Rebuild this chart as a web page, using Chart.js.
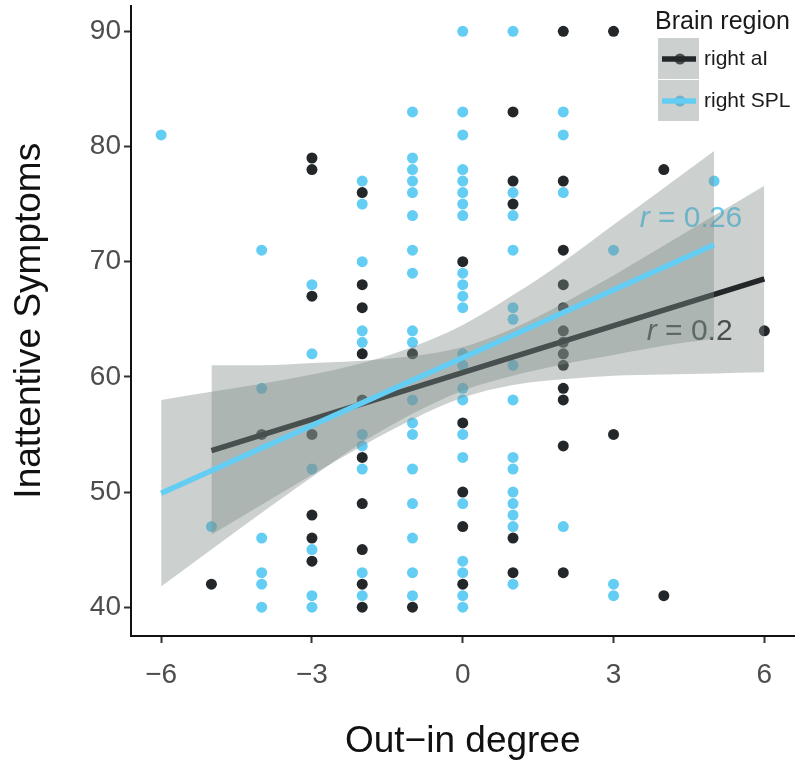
<!DOCTYPE html>
<html>
<head>
<meta charset="utf-8">
<script src="https://cdn.jsdelivr.net/npm/chart.js@4"></script>
<style>
  html, body { margin: 0; padding: 0; background: #fff; }
  #wrap { width: 800px; height: 764px; position: relative; }
</style>
</head>
<body>
<div id="wrap"><canvas id="chart"></canvas></div>
<script>
// ─── Data ───────────────────────────────────────────
const degrees = [-6, -5, -4, -3, -2, -1, 0, 1, 2, 3, 4, 5, 6];
const xTicks = [-6, -3, 0, 3, 6];
const yTicks = [40, 50, 60, 70, 80, 90];

// inattentive scores per out-in degree column
const aiByDegree = [
  [],
  [42],
  [55],
  [79, 78, 67, 55, 48, 46, 44],
  [76, 68, 66, 62, 58, 53, 49, 45, 42, 40],
  [62, 40],
  [70, 56, 50, 47, 42],
  [83, 77, 75, 46, 43],
  [90, 77, 71, 68, 66, 64, 63, 62, 61, 59, 58, 54, 43],
  [90, 55],
  [78, 41],
  [],
  [64]
];
const splByDegree = [
  [81],
  [47],
  [71, 59, 46, 43, 42, 40],
  [68, 62, 52, 45, 41, 40],
  [77, 75, 70, 64, 63, 55, 54, 52, 43, 41],
  [83, 79, 78, 77, 76, 74, 71, 69, 64, 63, 58, 56, 55, 52, 49, 46, 43, 41],
  [90, 83, 81, 78, 77, 76, 75, 74, 69, 68, 67, 66, 62, 61, 59, 58, 55, 53, 49, 44, 43, 41, 40],
  [90, 76, 74, 71, 66, 65, 61, 58, 53, 52, 50, 49, 48, 47, 42],
  [83, 81, 76, 47],
  [71, 42, 41],
  [],
  [77],
  []
];

// regression lines
const aiFitX = [-5, 6];
const aiFitY = [53.6, 68.5];
const splFitX = [-6, 5];
const splFitY = [49.9, 71.46];

// confidence bands
const aiBandX = [-5, -4, -3, -2, -1, 0, 1, 2, 3, 4, 5, 6];
const aiBandLo = [46.3, 48.9, 51.5, 54.0, 56.3, 58.2, 59.3, 59.8, 60.1, 60.2, 60.3, 60.4];
const aiBandHi = [61.0, 61.0, 61.2, 61.4, 61.8, 62.6, 64.2, 66.4, 68.8, 71.4, 74.0, 76.6];
const splBandX = [-6, -5, -4, -3, -2, -1, 0, 1, 2, 3, 4, 5];
const splBandLo = [41.8, 45.0, 48.2, 51.3, 54.3, 56.8, 58.8, 60.1, 61.1, 61.9, 62.7, 63.3];
const splBandHi = [58.0, 58.7, 59.4, 60.2, 61.2, 62.6, 64.5, 67.1, 70.0, 73.2, 76.4, 79.6];

const seriesNames = ['right aI', 'right SPL'];
const rLabels = ['0.2', '0.26'];

// ─── Styles ─────────────────────────────────────────
const DARK = '#23272a';
const BLUE = '#63cdf3';
const BAND = 'rgba(128, 141, 135, 0.4)';
const FONT = '"Liberation Sans", Arial, sans-serif';

function toPoints(byDegree) {
  const pts = [];
  byDegree.forEach((vals, i) => vals.forEach(v => pts.push({ x: degrees[i], y: v })));
  return pts;
}
function zip(xs, ys) {
  return xs.map((x, i) => ({ x: x, y: ys[i] }));
}
function bandDatasets(xs, lo, hi, order) {
  const base = {
    showLine: true, pointRadius: 0, borderWidth: 0, borderColor: 'transparent',
    cubicInterpolationMode: 'monotone', order: order
  };
  return [
    Object.assign({}, base, { data: zip(xs, lo), fill: false }),
    Object.assign({}, base, { data: zip(xs, hi), fill: '-1', backgroundColor: BAND })
  ];
}
function lineDataset(xs, ys, color, order) {
  return {
    data: zip(xs, ys), showLine: true, pointRadius: 0,
    borderColor: color, borderWidth: 5.5, fill: false, order: order
  };
}
// drop the label overhang padding Chart.js reserves around each axis
function zeroPadding(s) {
  s.paddingTop = 0; s.paddingBottom = 0; s.paddingLeft = 0; s.paddingRight = 0;
}

// ─── Plugins ────────────────────────────────────────
const rLabelPlugin = {
  id: 'rLabels',
  beforeDatasetsDraw(chart) {
    const { ctx, scales: { x, y } } = chart;
    const items = [
      { x: 3.66, y: 63.9, text: rLabels[0], color: DARK },
      { x: 3.52, y: 73.7, text: rLabels[1], color: BLUE }
    ];
    ctx.save();
    ctx.textBaseline = 'middle';
    ctx.textAlign = 'left';
    items.forEach(it => {
      const px = x.getPixelForValue(it.x);
      const py = y.getPixelForValue(it.y);
      ctx.fillStyle = it.color;
      ctx.font = 'italic 30px ' + FONT;
      ctx.fillText('r', px, py);
      const w = ctx.measureText('r').width;
      ctx.font = '30px ' + FONT;
      ctx.fillText(' = ' + it.text, px + w, py);
    });
    ctx.restore();
  }
};

const legendPlugin = {
  id: 'ggLegend',
  afterDraw(chart) {
    const ctx = chart.ctx;
    ctx.save();
    ctx.fillStyle = '#1a1a1a';
    ctx.font = '25px ' + FONT;
    ctx.textBaseline = 'alphabetic';
    ctx.fillText('Brain region', 655, 29);
    const colors = [DARK, BLUE];
    seriesNames.forEach((name, i) => {
      const top = 38 + i * 42;
      const cy = top + 21;
      // point, then ribbon, then line like ggplot keys
      ctx.fillStyle = colors[i];
      ctx.beginPath();
      ctx.arc(680, cy, 5.5, 0, Math.PI * 2);
      ctx.fill();
      ctx.fillStyle = BAND;
      ctx.fillRect(658, top, 41, 41);
      ctx.strokeStyle = colors[i];
      ctx.lineWidth = 5.5;
      ctx.beginPath();
      ctx.moveTo(662, cy);
      ctx.lineTo(696, cy);
      ctx.stroke();
      ctx.fillStyle = '#1a1a1a';
      ctx.font = '21px ' + FONT;
      ctx.textBaseline = 'middle';
      ctx.fillText(name, 704, cy);
    });
    ctx.restore();
  }
};

// ─── Chart ──────────────────────────────────────────
const ctx = document.getElementById('chart').getContext('2d');
new Chart(ctx, {
  type: 'scatter',
  data: {
    datasets: [
      { data: toPoints(aiByDegree), backgroundColor: DARK, borderWidth: 0, pointRadius: 5.5, order: 11 },
      { data: toPoints(splByDegree), backgroundColor: BLUE, borderWidth: 0, pointRadius: 5.5, order: 10 },
      ...bandDatasets(aiBandX, aiBandLo, aiBandHi, 8),
      lineDataset(aiFitX, aiFitY, DARK, 7),
      ...bandDatasets(splBandX, splBandLo, splBandHi, 6),
      lineDataset(splFitX, splFitY, BLUE, 5)
    ]
  },
  options: {
    responsive: true,
    maintainAspectRatio: false,
    animation: false,
    layout: { padding: { left: 0, right: 5, top: 0, bottom: 0 } },
    plugins: { legend: { display: false }, tooltip: { enabled: false } },
    scales: {
      x: {
        type: 'linear', min: -6.6, max: 6.6,
        afterBuildTicks: s => { s.ticks = xTicks.map(v => ({ value: v })); },
        afterFit: s => { s.height = 128; zeroPadding(s); },
        grid: { drawOnChartArea: false, drawTicks: true, tickLength: 7, tickWidth: 2, tickColor: '#333' },
        border: { display: true, color: '#111', width: 2 },
        ticks: {
          color: '#4d4d4d', padding: 15, font: { family: FONT, size: 28 },
          callback: v => (v < 0 ? '\u2212' + Math.abs(v) : String(v))
        },
        title: {
          display: true, text: 'Out\u2212in degree', color: '#111',
          font: { family: FONT, size: 37 }, padding: { top: 0, bottom: 0 }
        }
      },
      y: {
        type: 'linear', min: 37.5, max: 92.24,
        afterBuildTicks: s => { s.ticks = yTicks.map(v => ({ value: v })); },
        afterFit: s => { s.width = 131; zeroPadding(s); },
        grid: { drawOnChartArea: false, drawTicks: true, tickLength: 7, tickWidth: 2, tickColor: '#333' },
        border: { display: true, color: '#111', width: 2 },
        ticks: { color: '#4d4d4d', padding: 3, font: { family: FONT, size: 28 } },
        title: {
          display: true, text: 'Inattentive Symptoms', color: '#111',
          font: { family: FONT, size: 37 }, padding: { top: 8, bottom: 0 }
        }
      }
    }
  },
  plugins: [rLabelPlugin, legendPlugin]
});
</script>
</body>
</html>
